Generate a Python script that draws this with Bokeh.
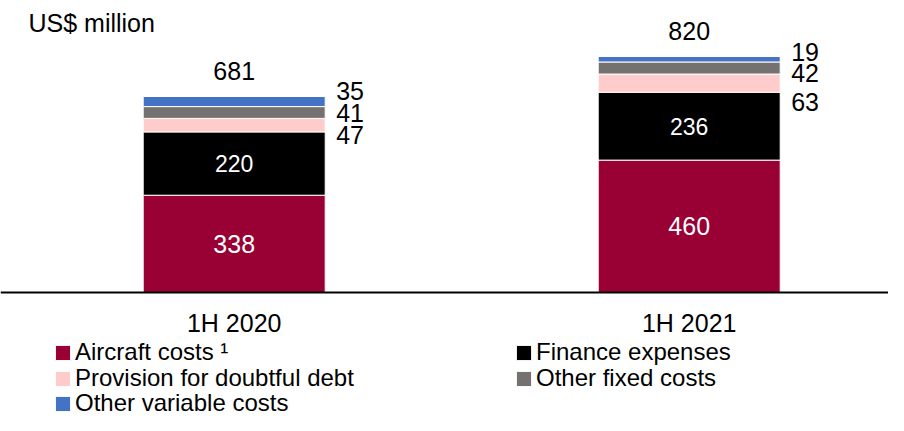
from bokeh.plotting import figure
from bokeh.models import Range1d, ColumnDataSource, Span, Label, Legend, LegendItem
from bokeh.core.properties import value
from bokeh.embed import file_html
from bokeh.resources import INLINE

# ---------------- data ----------------
periods = ["1H 2020", "1H 2021"]
series_names = ["Aircraft costs \u00b9", "Finance expenses", "Provision for doubtful debt",
                "Other fixed costs", "Other variable costs"]
aircraft = [338, 460]
finance = [220, 236]
provision = [47, 63]
other_fixed = [41, 42]
other_variable = [35, 19]
totals = [681, 820]
unit_label = "US$ million"

# ---------------- style ----------------
keys = ["aircraft", "finance", "provision", "other_fixed", "other_variable"]
colors = ["#990033", "#000000", "#FFCCCC", "#767171", "#4472C4"]
FONT = "Liberation Sans"
FS = "25px"
W, H = 888, 415
PX_PER_UNIT_Y = 0.2878
BASE_PX = 292
PX_PER_UNIT_X = 455
FIRST_X_PX = 233.7
# pixel nudges of the small outside labels (provision, fixed, variable) per bar
side_nudge = [[10, 0.5, -10.5], [18.4, 4.5, -7.4]]
# legend slots: (series index, glyph left px, row centre px from top)
legend_slots = [(0, 53, 352), (1, 514, 352), (2, 53, 378), (3, 514, 378), (4, 53, 403)]

x_idx = list(range(len(periods)))
values = [aircraft, finance, provision, other_fixed, other_variable]
src = ColumnDataSource(dict(x=x_idx, **{k: v for k, v in zip(keys, values)}))

p = figure(width=W, height=H, output_backend="svg", toolbar_location=None,
           x_range=Range1d(-FIRST_X_PX / PX_PER_UNIT_X, (W - FIRST_X_PX) / PX_PER_UNIT_X),
           y_range=Range1d(-(H - BASE_PX) / PX_PER_UNIT_Y, BASE_PX / PX_PER_UNIT_Y),
           x_axis_type=None, y_axis_type=None,
           min_border=0, min_border_left=0, min_border_right=0,
           min_border_top=0, min_border_bottom=0)
p.grid.visible = False
p.outline_line_color = None
p.background_fill_color = "white"
p.border_fill_color = "white"

renderers = p.vbar_stack(keys, x="x", width=0.4, source=src,
                         fill_color=colors, line_color="white", line_width=1)

# baseline
p.add_layout(Span(location=0, dimension="width", line_color="black", line_width=2))

# cumulative positions
cum = []
for i in range(len(periods)):
    run = 0
    row = []
    for v in values:
        row.append((run, run + v[i]))
        run += v[i]
    cum.append(row)

# in-bar labels (aircraft, finance)
in_x, in_y, in_t, in_fs = [], [], [], []
for i in x_idx:
    for s, fs in ((0, "25px"), (1, "23px")):
        lo, hi = cum[i][s]
        in_x.append(i)
        in_y.append((lo + hi) / 2)
        in_t.append(str(values[s][i]))
        in_fs.append(fs)
p.text(x=in_x, y=in_y, text=in_t, text_font_size=in_fs, text_color="white",
       text_align="center", text_baseline="middle", text_font=value(FONT))

# outside labels (provision, fixed, variable)
for i in x_idx:
    for j, s in enumerate((2, 3, 4)):
        lo, hi = cum[i][s]
        p.text(x=[i + 0.2], y=[(lo + hi) / 2], text=[str(values[s][i])],
               x_offset=11, y_offset=side_nudge[i][j],
               text_font_size=FS, text_color="black", text_align="left",
               text_baseline="middle", text_font=value(FONT))

# totals
p.text(x=x_idx, y=totals, text=[str(t) for t in totals], y_offset=-25.5,
       text_font_size=FS, text_color="black", text_align="center",
       text_baseline="middle", text_font=value(FONT))

# category labels
p.text(x=x_idx, y=[0] * len(x_idx), text=periods, y_offset=30,
       text_font_size=FS, text_color="black", text_align="center",
       text_baseline="middle", text_font=value(FONT))

# unit label
p.add_layout(Label(x=28, y=H - 22, x_units="screen", y_units="screen", text=unit_label,
                   text_font=FONT, text_font_size=FS, text_color="black",
                   text_baseline="middle"))

# legend: one entry per slot so every entry sits where the reference has it
ROW_H = 30
for k, gx, cy in legend_slots:
    lg = Legend(items=[LegendItem(label=series_names[k], renderers=[renderers[k]])],
                location=(gx, H - cy - ROW_H / 2), border_line_color=None,
                background_fill_alpha=0, padding=0, margin=0, spacing=0,
                glyph_width=19, glyph_height=19, label_standoff=3, label_height=ROW_H,
                label_text_font=FONT, label_text_font_size="24px", label_text_color="black")
    p.add_layout(lg)

open("out.html", "w").write(file_html(p, INLINE))
